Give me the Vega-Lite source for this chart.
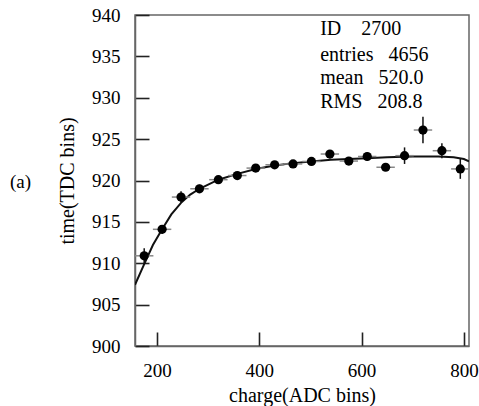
{
  "$schema": "https://vega.github.io/schema/vega-lite/v6.json",
  "autosize": {"type": "none"},
  "padding": {"left": 135, "top": 15, "right": 10, "bottom": 60},
  "width": 334,
  "height": 331,
  "background": "white",
  "config": {
    "font": "Liberation Serif",
    "view": {"stroke": "#666", "strokeWidth": 1.5},
    "axis": {
      "labelFont": "Liberation Serif", "titleFont": "Liberation Serif",
      "labelFontSize": 19, "titleFontSize": 20, "labelColor": "#000", "titleColor": "#000",
      "titleFontWeight": "normal", "grid": false, "domainColor": "#666", "domainWidth": 1.5,
      "tickColor": "#222", "tickWidth": 1.6, "tickSize": -14
    }
  },
  "datasets": {
    "pts": [
      {"charge": 175, "time": 910.9, "tlo": 910.0, "thi": 911.8, "clo": 157, "chi": 193},
      {"charge": 210, "time": 914.1, "tlo": 913.6, "thi": 914.6, "clo": 192, "chi": 228},
      {"charge": 247, "time": 918.0, "tlo": 917.3, "thi": 918.7, "clo": 229, "chi": 265},
      {"charge": 283, "time": 919.0, "tlo": 918.5, "thi": 919.5, "clo": 265, "chi": 301},
      {"charge": 320, "time": 920.1, "tlo": 919.7, "thi": 920.5, "clo": 302, "chi": 338},
      {"charge": 357, "time": 920.6, "tlo": 920.2, "thi": 921.0, "clo": 339, "chi": 375},
      {"charge": 393, "time": 921.5, "tlo": 921.1, "thi": 921.9, "clo": 375, "chi": 411},
      {"charge": 430, "time": 921.9, "tlo": 921.5, "thi": 922.3, "clo": 412, "chi": 448},
      {"charge": 466, "time": 922.0, "tlo": 921.7, "thi": 922.3, "clo": 448, "chi": 484},
      {"charge": 502, "time": 922.3, "tlo": 922.0, "thi": 922.6, "clo": 484, "chi": 520},
      {"charge": 538, "time": 923.2, "tlo": 922.7, "thi": 923.7, "clo": 520, "chi": 556},
      {"charge": 575, "time": 922.35, "tlo": 921.9, "thi": 922.8, "clo": 557, "chi": 593},
      {"charge": 611, "time": 922.9, "tlo": 922.4, "thi": 923.4, "clo": 593, "chi": 629},
      {"charge": 647, "time": 921.6, "tlo": 921.2, "thi": 922.0, "clo": 629, "chi": 665},
      {"charge": 684, "time": 923.0, "tlo": 922.0, "thi": 924.0, "clo": 666, "chi": 702},
      {"charge": 720, "time": 926.1, "tlo": 924.5, "thi": 927.7, "clo": 702, "chi": 738},
      {"charge": 757, "time": 923.6, "tlo": 922.7, "thi": 924.5, "clo": 739, "chi": 775},
      {"charge": 793, "time": 921.4, "tlo": 920.2, "thi": 922.6, "clo": 775, "chi": 811}
    ],
    "fit": [
      {"charge": 157, "time": 907.4}, {"charge": 175, "time": 909.9}, {"charge": 192, "time": 912.2},
      {"charge": 210, "time": 914.1}, {"charge": 228, "time": 915.9}, {"charge": 247, "time": 917.3},
      {"charge": 265, "time": 918.3}, {"charge": 283, "time": 919.0}, {"charge": 320, "time": 920.1},
      {"charge": 357, "time": 920.8}, {"charge": 393, "time": 921.4}, {"charge": 430, "time": 921.8},
      {"charge": 466, "time": 922.1}, {"charge": 502, "time": 922.3}, {"charge": 540, "time": 922.5},
      {"charge": 575, "time": 922.6}, {"charge": 611, "time": 922.7}, {"charge": 650, "time": 922.8},
      {"charge": 700, "time": 922.9}, {"charge": 750, "time": 922.9}, {"charge": 780, "time": 922.8},
      {"charge": 800, "time": 922.6}, {"charge": 810, "time": 922.3}
    ],
    "stats": [
      {"charge": 519, "time": 938.3, "label": "ID\u00a0\u00a0\u00a0\u00a02700"},
      {"charge": 519, "time": 935.2, "label": "entries\u00a0\u00a0\u00a04656"},
      {"charge": 519, "time": 932.4, "label": "mean\u00a0\u00a0\u00a0520.0"},
      {"charge": 519, "time": 929.5, "label": "RMS\u00a0\u00a0\u00a0208.8"}
    ],
    "tag": [{"charge": -67, "time": 919.8, "label": "(a)"}]
  },
  "encoding": {
    "x": {"field": "charge", "type": "quantitative",
      "scale": {"domain": [157, 810], "nice": false, "zero": false},
      "axis": {"values": [200, 400, 600, 800], "title": "charge(ADC bins)", "labelPadding": 29, "titlePadding": 5}},
    "y": {"field": "time", "type": "quantitative",
      "scale": {"domain": [900, 940], "nice": false, "zero": false},
      "axis": {"values": [900, 905, 910, 915, 920, 925, 930, 935, 940], "title": "time(TDC bins)", "labelPadding": 29, "titlePadding": 14}}
  },
  "layer": [
    {"data": {"name": "fit"}, "mark": {"type": "line", "color": "#111", "strokeWidth": 2, "clip": true}, "encoding": {}},
    {"data": {"name": "pts"}, "mark": {"type": "rule", "color": "#888", "strokeWidth": 1.5, "clip": true},
      "encoding": {"x": {"field": "clo", "type": "quantitative"}, "x2": {"field": "chi"}}},
    {"data": {"name": "pts"}, "mark": {"type": "rule", "color": "#111", "strokeWidth": 1.5, "clip": true},
      "encoding": {"y": {"field": "tlo", "type": "quantitative"}, "y2": {"field": "thi"}}},
    {"data": {"name": "pts"}, "mark": {"type": "point", "filled": true, "color": "#000", "opacity": 1, "size": 85}, "encoding": {}},
    {"data": {"name": "stats"}, "mark": {"type": "text", "align": "left", "baseline": "middle", "fontSize": 20, "color": "#000", "font": "Liberation Serif"},
      "encoding": {"text": {"field": "label"}}},
    {"data": {"name": "tag"}, "mark": {"type": "text", "align": "center", "baseline": "middle", "fontSize": 19, "color": "#000", "font": "Liberation Serif"},
      "encoding": {"text": {"field": "label"}}}
  ]
}
